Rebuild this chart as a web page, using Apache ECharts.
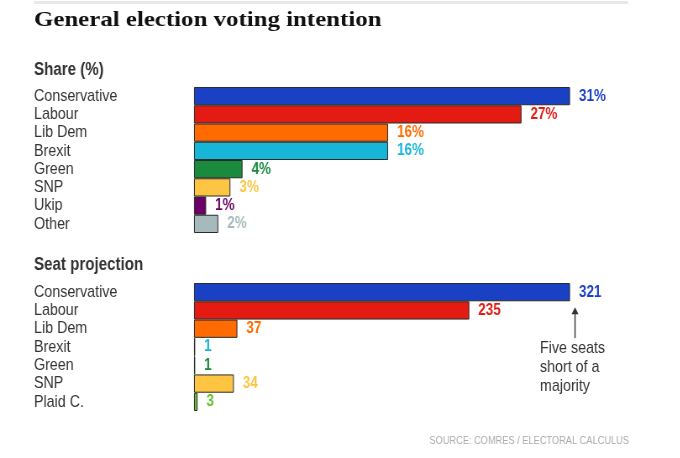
<!DOCTYPE html>
<html>
<head>
<meta charset="utf-8">
<script src="https://cdn.jsdelivr.net/npm/echarts@6/dist/echarts.min.js"></script>
<style>
html,body{margin:0;padding:0;background:#fff;overflow:hidden;}
/* the chart is drawn wider and squeezed back so the sans text looks like a narrow face */
#chart{width:810px;height:458px;transform:scaleX(0.84);transform-origin:0 0;}
</style>
</head>
<body>
<div id="chart"></div>
<script>
// vote share (%)
const shareParties = ['Conservative', 'Labour', 'Lib Dem', 'Brexit', 'Green', 'SNP', 'Ukip', 'Other'];
const shareValues = [31, 27, 16, 16, 4, 3, 1, 2];
const shareColors = ['#1a40c4', '#e31b13', '#ff6b00', '#17b5d8', '#1a8a3c', '#fdc542', '#6c0068', '#a6b9bd'];
const shareLabelColors = ['#1a40c4', '#e31b13', '#ff6b00', '#17b5d8', '#1a8a3c', '#fdc542', '#6c0068', '#a6b9bd'];

// seat projection
const seatParties = ['Conservative', 'Labour', 'Lib Dem', 'Brexit', 'Green', 'SNP', 'Plaid C.'];
const seatValues = [321, 235, 37, 1, 1, 34, 3];
const seatColors = ['#1a40c4', '#e31b13', '#ff6b00', '#17b5d8', '#1a8a3c', '#fdc542', '#5ec42a'];
const seatLabelColors = ['#1a40c4', '#e31b13', '#ff6b00', '#17b5d8', '#1a8a3c', '#fdc542', '#5ec42a'];

const SX = 0.84;
const SANS = "'Liberation Sans', Arial, sans-serif";
function X(v) { return v / SX; } // screen px -> container px

let chart = echarts.init(document.getElementById('chart'));

function catAxis(idx, cats) {
  return {
    gridIndex: idx,
    type: 'category',
    data: cats,
    inverse: true,
    axisLine: {show: false},
    axisTick: {show: false},
    splitLine: {show: false},
    axisLabel: {interval: 0, align: 'left', margin: X(160), fontSize: 17, color: '#333', fontFamily: SANS}
  };
}

function barSeries(idx, values, colors, labelColors, fmt) {
  return {
    type: 'bar',
    xAxisIndex: idx,
    yAxisIndex: idx,
    barCategoryGap: 0,
    silent: true,
    data: values.map(function (v, i) {
      return {value: v, itemStyle: {color: colors[i]}, label: {color: labelColors[i]}};
    }),
    itemStyle: {borderColor: '#2b2b2b', borderWidth: 1},
    label: {
      show: true, position: 'right', distance: X(9),
      fontSize: 16, fontWeight: 'bold', fontFamily: SANS,
      formatter: fmt
    }
  };
}

chart.setOption({
  animation: false,
  grid: [
    {left: X(194), top: 87, width: X(376), height: 146},
    {left: X(194), top: 283, width: X(376), height: 128}
  ],
  xAxis: [
    {gridIndex: 0, type: 'value', min: 0, max: function (v) { return v.max; }, show: false},
    {gridIndex: 1, type: 'value', min: 0, max: function (v) { return v.max; }, show: false}
  ],
  yAxis: [catAxis(0, shareParties), catAxis(1, seatParties)],
  series: [
    barSeries(0, shareValues, shareColors, shareLabelColors, '{c}%'),
    barSeries(1, seatValues, seatColors, seatLabelColors, '{c}')
  ]
});

// annotation placed from the Conservative seat bar
let p = chart.convertToPixel({xAxisIndex: 1, yAxisIndex: 1}, [seatValues[0], seatParties[0]]);
let ax = p[0] + X(5);
let tipY = p[1] + 15;
let baseY = tipY + 31;

chart.setOption({
  graphic: [
    {type: 'rect', shape: {x: X(34), y: 1, width: X(594), height: 3}, style: {fill: '#e8e8e8'}},
    {type: 'text', x: X(34), y: 20, scaleX: 1.346,
      style: {text: 'General election voting intention', font: 'bold 22px "Liberation Serif", serif', fill: '#111', textVerticalAlign: 'middle'}},
    {type: 'text', x: X(34), y: 70, style: {text: 'Share (%)', fontFamily: SANS, fontSize: 18, fontWeight: 'bold', fill: '#333', textVerticalAlign: 'middle'}},
    {type: 'text', x: X(34), y: 265, style: {text: 'Seat projection', fontFamily: SANS, fontSize: 18, fontWeight: 'bold', fill: '#333', textVerticalAlign: 'middle'}},
    {type: 'line', shape: {x1: ax, y1: tipY + 5, x2: ax, y2: baseY}, style: {stroke: '#333', lineWidth: 1.4}},
    {type: 'polygon', shape: {points: [[ax, tipY], [ax - X(3.5), tipY + 7], [ax + X(3.5), tipY + 7]]}, style: {fill: '#333'}},
    {type: 'text', x: ax - X(35), y: baseY + 1,
      style: {text: 'Five seats\nshort of a\nmajority', fontFamily: SANS, fontSize: 17, lineHeight: 19, fill: '#333', textVerticalAlign: 'top'}},
    {type: 'text', x: X(629), y: 441,
      style: {text: 'SOURCE: COMRES / ELECTORAL CALCULUS', fontFamily: SANS, fontSize: 11, fill: '#aaa', textAlign: 'right', textVerticalAlign: 'middle'}}
  ]
});
</script>
</body>
</html>
